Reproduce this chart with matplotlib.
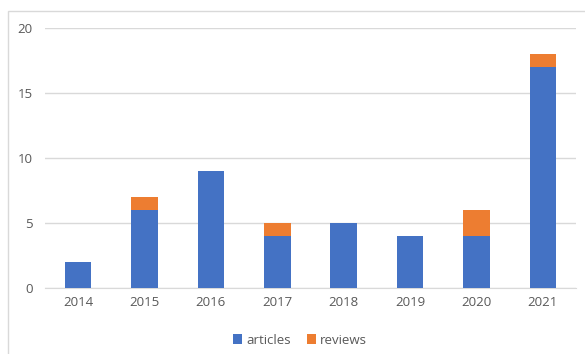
import matplotlib
matplotlib.use("Agg")
import matplotlib.pyplot as plt
from matplotlib.patches import Rectangle
import numpy as np

years = ["2014", "2015", "2016", "2017", "2018", "2019", "2020", "2021"]
articles = [2, 6, 9, 4, 5, 4, 4, 17]
reviews = [0, 1, 0, 1, 0, 0, 2, 1]

plt.rcParams['font.family'] = ['Open Sans', 'DejaVu Sans']
fig = plt.figure(figsize=(5.85, 3.54), dpi=100)
fig.patches.append(Rectangle((7.5/585, -0.1), 1.0, 1 - 11/354 + 0.1, transform=fig.transFigure,
                             fill=False, edgecolor='#D9D9D9', linewidth=1, clip_on=False))
ax = fig.add_axes([45/585, 1 - 288/354, 531/585, 260/354])
x = np.arange(len(years))
ax.bar(x, articles, width=0.4, color='#4472C4', label='articles', zorder=3)
ax.bar(x, reviews, width=0.4, bottom=articles, color='#ED7D31', label='reviews', zorder=3)
ax.set_xlim(-0.5, len(years) - 0.5)
ax.set_ylim(0, 20)
ax.set_yticks([0, 5, 10, 15, 20])
ax.set_xticks(x)
ax.set_xticklabels(years)
ax.yaxis.grid(True, color='#D9D9D9', linewidth=1, zorder=0)
for s in ['top', 'right', 'left']:
    ax.spines[s].set_visible(False)
ax.spines['bottom'].set_color('#D9D9D9')
ax.tick_params(length=0, colors='#595959', labelsize=9.5)
ax.tick_params(axis='y', pad=9)
ax.tick_params(axis='x', pad=6)
fig.legend(loc='center', bbox_to_anchor=(300/585, 1 - 340/354), ncol=2, frameon=False,
           fontsize=9.5, handlelength=0.7, handleheight=0.7, handletextpad=0.3,
           columnspacing=1.2, labelcolor='#595959')
fig.savefig("out.png", dpi=100)
